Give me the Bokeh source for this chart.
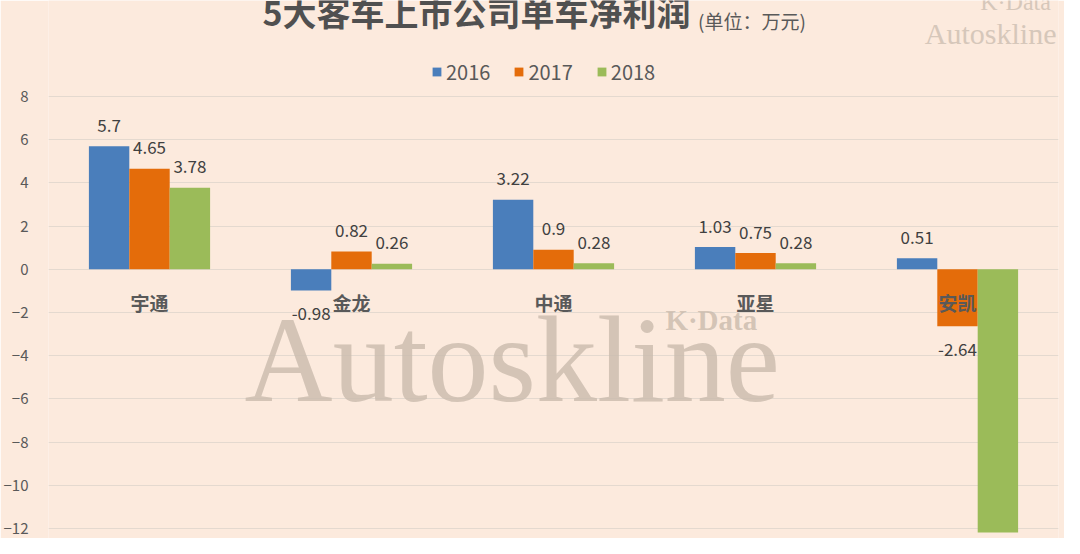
import numpy as np
from bokeh.plotting import figure
from bokeh.models import Range1d, FixedTicker, ColumnDataSource, Legend, LegendItem
from bokeh.core.properties import value
from bokeh.embed import file_html
from bokeh.resources import INLINE

# ---- data ----
companies = ["宇通", "金龙", "中通", "亚星", "安凯"]
years = ["2016", "2017", "2018"]
v2016 = [5.7, -0.98, 3.22, 1.03, 0.51]
v2017 = [4.65, 0.82, 0.9, 0.75, -2.64]
v2018 = [3.78, 0.26, 0.28, 0.28, -12.18]
y_ticks = [-12, -10, -8, -6, -4, -2, 0, 2, 4, 6, 8]
title_text = "5大客车上市公司单车净利润"
unit_text = "(单位：万元)"
watermark = "Autoskline"
watermark_small = "K·Data"

colors = ["#4A7EBB", "#E46C0A", "#9BBB59"]
BG = "#FCEADD"
TXT = "#595959"
CJK = "Noto Sans CJK SC"
SERIF = "Liberation Serif"

W, H = 1064, 538
OFF_Y = 0            # vertical offset between reference pixels and figure pixels
PX_PER_UNIT = 21.6
ZERO_REF = 268.8
def fy(ref_y):
    return (ZERO_REF - ref_y) / PX_PER_UNIT
def fx(ref_x):
    return (ref_x - 46) / 204.0

p = figure(width=W, height=H, output_backend="svg", toolbar_location=None,
           x_range=Range1d(0, len(companies)),
           y_range=Range1d(fy(H + OFF_Y), fy(OFF_Y)),
           x_axis_location=None,
           min_border_left=38, min_border_right=6, min_border_top=0, min_border_bottom=0)
p.background_fill_color = BG
p.border_fill_color = BG
p.outline_line_color = None

p.yaxis.ticker = FixedTicker(ticks=y_ticks)
p.yaxis.axis_line_color = None
p.yaxis.major_tick_line_color = None
p.yaxis.minor_tick_line_color = None
p.yaxis.major_label_text_font = CJK
p.yaxis.major_label_text_font_size = "15px"
p.yaxis.major_label_text_color = TXT
p.yaxis.major_label_standoff = 14
p.xgrid.visible = False
p.ygrid.grid_line_color = "#E4D9CF"
p.ygrid.grid_line_width = 1

def deco(text, ref_x, ref_y, font, size, color, style="normal", alpha=1.0):
    p.text(x=[fx(ref_x)], y=[fy(ref_y)], text=[text],
           text_font=value(font), text_font_size=size, text_font_style=style,
           text_color=color, text_alpha=alpha,
           text_align="left", text_baseline="middle")

# watermark (behind bars)
deco(watermark, 244, 359, SERIF, "122px", "#C9BAAC", alpha=0.8)
deco(watermark_small, 669, 319, SERIF, "29px", "#C9BAAC", style="bold", alpha=0.8)

centers = np.arange(len(companies)) + 0.5
offsets = [-0.2, 0.0, 0.2]
series = [v2016, v2017, v2018]

renderers = []
for vals, off, col in zip(series, offsets, colors):
    vals = np.array(vals)
    src = ColumnDataSource(dict(
        x=centers + off, top=vals,
        label=[str(v) for v in vals],
        yoff=np.where(vals >= 0, -21, 23)))
    r = p.vbar(x="x", top="top", bottom=0, width=0.2, source=src,
               fill_color=col, line_color=None)
    renderers.append(r)
    p.text(x="x", y="top", text="label", source=src, y_offset="yoff",
           text_align="center", text_baseline="middle",
           text_font=value(CJK), text_font_size="17px", text_color="#404040")

# category labels next to zero line
csrc = ColumnDataSource(dict(x=centers, y=np.zeros(len(companies)), t=companies))
p.text(x="x", y="y", text="t", source=csrc, y_offset=33,
       text_align="center", text_baseline="middle",
       text_font=value(CJK), text_font_style="bold", text_font_size="19px", text_color=TXT)

# title
deco(title_text, 262, 11, CJK, "34px", "#505050", style="bold")
deco(unit_text, 702, 19.5, CJK, "19px", TXT)

# top-right watermark
deco(watermark, 931, 33, SERIF, "30px", "#D6C7BA")
deco(watermark_small, 987, 1, SERIF, "24px", "#D6C7BA")

legend = Legend(items=[LegendItem(label=yr, renderers=[r]) for yr, r in zip(years, renderers)],
                location=(383, 452), orientation="horizontal",
                background_fill_alpha=0, border_line_alpha=0,
                label_text_font=CJK, label_text_font_size="20px", label_text_color=TXT,
                glyph_width=11, glyph_height=11, label_standoff=4, spacing=23,
                padding=0, margin=0)
p.add_layout(legend)

open("out.html", "w").write(file_html(p, INLINE))
